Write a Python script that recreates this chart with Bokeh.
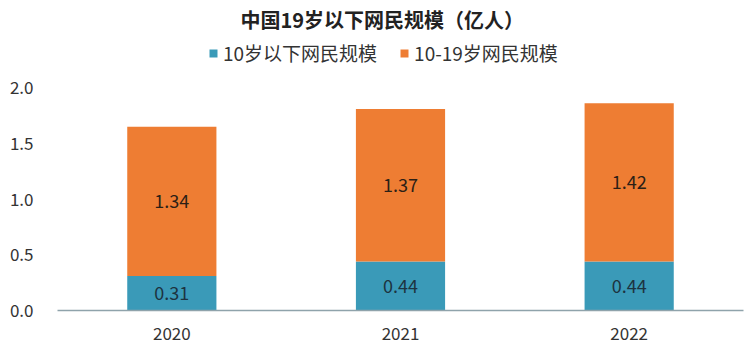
from bokeh.plotting import figure
from bokeh.models import ColumnDataSource, Legend, LegendItem, Range1d, FactorRange, CustomJSTickFormatter
from bokeh.embed import file_html
from bokeh.resources import INLINE
from bokeh.core.properties import value

years = ["2020", "2021", "2022"]
under10 = [0.31, 0.44, 0.44]
age10_19 = [1.34, 1.37, 1.42]
series_names = ["10岁以下网民规模", "10-19岁网民规模"]
colors = ["#3a9ab8", "#ee7d33"]
y_ticks = [0, 0.5, 1.0, 1.5, 2.0]

FONT = "Noto Sans CJK SC"

src = ColumnDataSource(dict(
    years=years,
    under10=under10,
    age10_19=age10_19,
    mid1=[v / 2 for v in under10],
    mid2=[a + b / 2 for a, b in zip(under10, age10_19)],
    lab1=[f"{v:.2f}" for v in under10],
    lab2=[f"{v:.2f}" for v in age10_19],
))

p = figure(width=750, height=357, x_range=FactorRange(*years, range_padding=0),
           y_range=Range1d(0, 2.46), output_backend="svg", toolbar_location=None,
           title="中国19岁以下网民规模（亿人）",
           min_border_left=57, min_border_right=7, min_border_bottom=47, min_border_top=0)

p.title.align = "left"
p.title.text_font = FONT
p.title.text_font_size = "20px"
p.title.text_font_style = "bold"
p.title.text_color = "#222222"
p.title.standoff = 5
p.title.offset = 183

rs = p.vbar_stack(["under10", "age10_19"], x="years", width=0.39, color=colors,
                  source=src, line_color=None)

p.text(x="years", y="mid1", text="lab1", source=src, text_align="center",
       text_baseline="middle", text_font=value(FONT), text_font_size="18px",
       text_color="#1d3340")
p.text(x="years", y="mid2", text="lab2", source=src, text_align="center",
       text_baseline="middle", text_font=value(FONT), text_font_size="18px",
       text_color="#2b2016")

legend = Legend(items=[LegendItem(label=series_names[i], renderers=[rs[i]]) for i in range(2)],
                orientation="horizontal", location=(151, 244),
                label_text_font=FONT, label_text_font_size="19px",
                label_text_color="#333333", glyph_width=10, glyph_height=10,
                spacing=22, border_line_color=None, background_fill_alpha=0,
                padding=0, margin=0, label_standoff=5, label_height=20)
p.add_layout(legend, "center")

p.xgrid.grid_line_color = None
p.ygrid.grid_line_color = None
p.outline_line_color = None

p.yaxis.axis_line_color = None
p.yaxis.major_tick_line_color = None
p.yaxis.minor_tick_line_color = None
p.yaxis.ticker = y_ticks
p.yaxis.major_label_text_font = FONT
p.yaxis.major_label_text_font_size = "17px"
p.yaxis.major_label_text_color = "#333333"
p.yaxis.major_label_standoff = 18
p.yaxis.formatter = CustomJSTickFormatter(code="return tick.toFixed(1);")

p.xaxis.axis_line_color = "#8fa3ab"
p.xaxis.axis_line_width = 1.5
p.xaxis.major_tick_line_color = None
p.xaxis.minor_tick_line_color = None
p.xaxis.major_label_text_font = FONT
p.xaxis.major_label_text_font_size = "17px"
p.xaxis.major_label_text_color = "#333333"
p.xaxis.major_label_standoff = 10

open("out.html", "w").write(file_html(p, INLINE))
